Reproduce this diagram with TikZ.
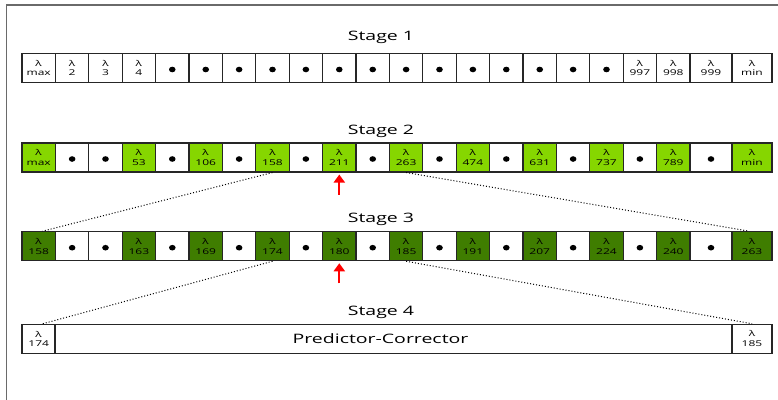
\documentclass[tikz,border=0pt]{standalone}
\usepackage{fontspec}
\setmainfont{Open Sans}
\usetikzlibrary{arrows.meta}
\definecolor{lgreen}{HTML}{86D600}
\definecolor{dgreen}{HTML}{3F7D00}
\definecolor{framegray}{HTML}{6A6A6A}
\newcommand\wide[1]{\scalebox{1.5}[1]{#1}}
\newcommand\lab[1]{\wide{λ}\\\wide{#1}}
\tikzset{
  cell/.style={draw=black!85, line width=1.1pt, minimum height=29pt, inner sep=0pt,
    font=\fontsize{8}{9.7}\selectfont, align=center},
  pcell/.style={cell, fill=white},
  gcell/.style={cell, fill=lgreen},
  dcell/.style={cell, fill=dgreen},
  wcell/.style={cell, fill=white, path picture={\fill[black] ([yshift=-1.5pt]path picture bounding box.center) ellipse (3.3pt and 2.8pt);}},
  stagetitle/.style={font=\fontsize{13}{15}\selectfont, inner sep=0pt},
  link/.style={dotted, line width=1pt},
  pick/.style={red, line width=2.2pt, -{Triangle[width=11pt,length=8pt]}},
}
\newcommand\rowcells[3]{%
  \foreach \i/\s/\t in {#3} {
    \pgfmathsetmacro\cx{\i<20 ? 38.7+33.4*\i : (\i==20 ? 711 : 752)}
    \pgfmathsetmacro\w{\i<20 ? 33.4 : (\i==20 ? 42 : 40)}
    \node[\s, minimum width=\w pt] (#1\i) at (\cx,#2) {\t};
  }%
}
\begin{document}
\begin{tikzpicture}[x=1pt,y=-1pt]
\useasboundingbox (0,0) rectangle (778,399);
\draw[framegray, line width=1.4pt] (6.7,410) -- (6.7,5) -- (790,5);

\node[stagetitle] (t1) at (381,37) {\wide{Stage 1}};
\node[stagetitle] (t2) at (381,131) {\wide{Stage 2}};
\node[stagetitle] (t3) at (381,219) {\wide{Stage 3}};
\node[stagetitle] (t4) at (381,312) {\wide{Stage 4}};

\rowcells{s1c}{68}{0/pcell/{\lab{max}}, 1/pcell/{\lab{2}}, 2/pcell/{\lab{3}}, 3/pcell/{\lab{4}},
  4/wcell/{}, 5/wcell/{}, 6/wcell/{}, 7/wcell/{}, 8/wcell/{}, 9/wcell/{}, 10/wcell/{},
  11/wcell/{}, 12/wcell/{}, 13/wcell/{}, 14/wcell/{}, 15/wcell/{}, 16/wcell/{}, 17/wcell/{},
  18/pcell/{\lab{997}}, 19/pcell/{\lab{998}}, 20/pcell/{\lab{999}}, 21/pcell/{\lab{min}}}

\rowcells{s2c}{157.5}{0/gcell/{\lab{max}}, 1/wcell/{}, 2/wcell/{}, 3/gcell/{\lab{53}},
  4/wcell/{}, 5/gcell/{\lab{106}}, 6/wcell/{}, 7/gcell/{\lab{158}}, 8/wcell/{}, 9/gcell/{\lab{211}},
  10/wcell/{}, 11/gcell/{\lab{263}}, 12/wcell/{}, 13/gcell/{\lab{474}}, 14/wcell/{}, 15/gcell/{\lab{631}},
  16/wcell/{}, 17/gcell/{\lab{737}}, 18/wcell/{}, 19/gcell/{\lab{789}}, 20/wcell/{}, 21/gcell/{\lab{min}}}

\rowcells{s3c}{246.2}{0/dcell/{\lab{158}}, 1/wcell/{}, 2/wcell/{}, 3/dcell/{\lab{163}},
  4/wcell/{}, 5/dcell/{\lab{169}}, 6/wcell/{}, 7/dcell/{\lab{174}}, 8/wcell/{}, 9/dcell/{\lab{180}},
  10/wcell/{}, 11/dcell/{\lab{185}}, 12/wcell/{}, 13/dcell/{\lab{191}}, 14/wcell/{}, 15/dcell/{\lab{207}},
  16/wcell/{}, 17/dcell/{\lab{224}}, 18/wcell/{}, 19/dcell/{\lab{240}}, 20/wcell/{}, 21/dcell/{\lab{263}}}

\node[pcell, minimum width=33.4pt] (s4a) at (38.7,338.8) {\lab{174}};
\node[pcell, minimum width=677pt, font=\fontsize{13}{15}\selectfont] (s4b) at (393.5,338.8) {\wide{Predictor-Corrector}\hspace*{26pt}};
\node[pcell, minimum width=40pt] (s4c) at (752,338.8) {\lab{185}};

\draw[link] (s2c7.south) -- ([xshift=4pt]s3c0.north);
\draw[link] (s2c11.south) -- ([xshift=-3pt]s3c21.north);
\draw[link] (s3c7.south) -- ([xshift=4pt]s4a.north);
\draw[link] (s3c11.south) -- (s4c.north);

\coordinate (a2) at ([yshift=-22pt]s2c9.south);
\coordinate (a3) at ([yshift=-22pt]s3c9.south);
\draw[pick, shorten >=2pt] (a2) -- (s2c9.south);
\draw[pick, shorten >=2pt] (a3) -- (s3c9.south);
\end{tikzpicture}
\end{document}
